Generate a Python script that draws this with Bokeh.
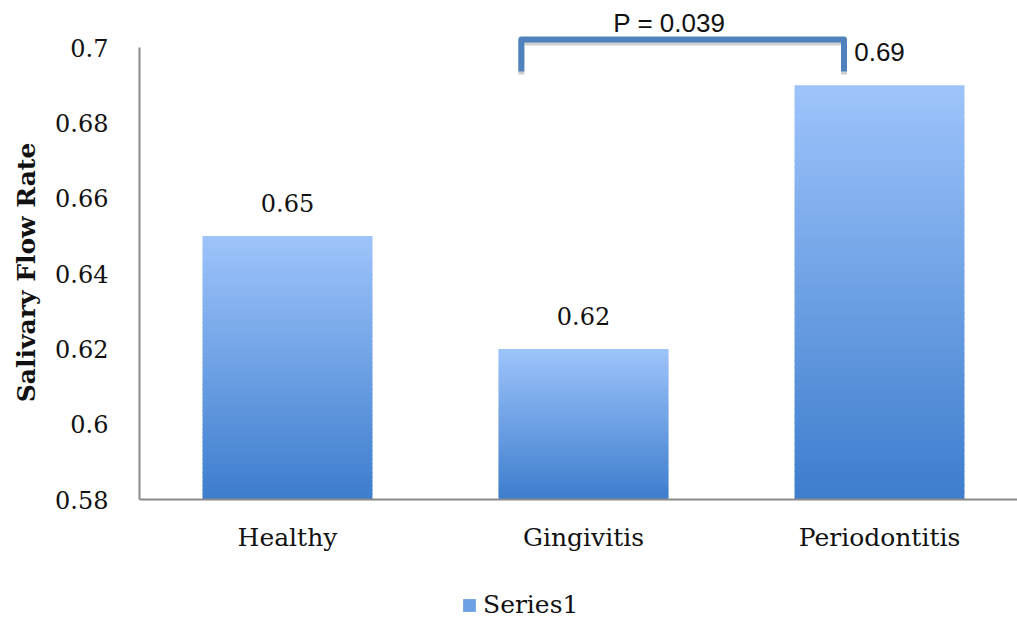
import numpy as np
from bokeh.plotting import figure
from bokeh.models import (Range1d, FixedTicker, Legend, LegendItem,
                          ColumnDataSource)
from bokeh.core.properties import value
from bokeh.embed import file_html
from bokeh.resources import INLINE

# ---------------- data ----------------
categories = ["Healthy", "Gingivitis", "Periodontitis"]
flow_rate = [0.65, 0.62, 0.69]
value_labels = ["0.65", "0.62", "0.69"]
y_ticks = [0.58, 0.6, 0.62, 0.64, 0.66, 0.68, 0.7]
y_tick_labels = ["0.58", "0.6", "0.62", "0.64", "0.66", "0.68", "0.7"]
series_name = "Series1"
y_title = "Salivary Flow Rate"
p_label = "P = 0.039"

# ---------------- style / layout ----------------
W, H = 1017, 619
PX_PER_X = 296.0          # pixels per category
PX_PER_Y = 3765.0         # pixels per unit of flow rate
AX_LEFT, AX_BOTTOM = 139, 499   # axis origin in figure pixels (from top-left)
Y_MIN, Y_MAX_AXIS = 0.58, 0.7
X_START = -AX_LEFT / PX_PER_X
X_END = (W - AX_LEFT) / PX_PER_X
Y_START = Y_MIN - (H - AX_BOTTOM) / PX_PER_Y
Y_END = Y_MIN + AX_BOTTOM / PX_PER_Y
BAR_W = 0.574
TOP_COLOR = np.array([0x9E, 0xC4, 0xFB])
BOT_COLOR = np.array([0x3D, 0x7D, 0xCD])
N_SLICES = 60
label_fonts = ["DejaVu Serif", "DejaVu Serif", "Liberation Sans"]
label_sizes = ["24px", "24px", "26px"]
BRACKET_X = (1.29, 2.38)
BRACKET_Y = (0.6937, 0.7022)
P_POS = (1.79, 0.7040)
YTITLE_POS = (-0.382, 0.6403)

p = figure(width=W, height=H, output_backend="svg", toolbar_location=None,
           x_range=Range1d(X_START, X_END), y_range=Range1d(Y_START, Y_END),
           min_border=0)
p.outline_line_color = None
p.xgrid.visible = False
p.ygrid.visible = False
p.background_fill_color = "white"
p.border_fill_color = "white"

x_pos = [i + 0.5 for i in range(len(categories))]

# gradient bars built from slices
overlap = 1.2 / PX_PER_Y
lefts, rights, bottoms, tops, colors = [], [], [], [], []
for xc, v in zip(x_pos, flow_rate):
    edges = np.linspace(Y_MIN, v, N_SLICES + 1)
    for k in range(N_SLICES):
        t = (k + 0.5) / N_SLICES
        c = BOT_COLOR + (TOP_COLOR - BOT_COLOR) * t
        lefts.append(xc - BAR_W / 2)
        rights.append(xc + BAR_W / 2)
        bottoms.append(edges[k])
        tops.append(edges[k + 1] + (overlap if k < N_SLICES - 1 else 0))
        colors.append("#%02x%02x%02x" % tuple(int(round(a)) for a in c))
bars_src = ColumnDataSource(dict(left=lefts, right=rights, bottom=bottoms,
                                 top=tops, color=colors))
bars = p.quad(left="left", right="right", bottom="bottom", top="top",
              fill_color="color", line_color=None, source=bars_src)

# value labels
lab_src = ColumnDataSource(dict(x=x_pos, y=flow_rate, text=value_labels,
                                font=label_fonts, size=label_sizes))
p.text(x="x", y="y", text="text", source=lab_src, text_align="center",
       text_baseline="alphabetic", y_offset=-33, text_font="font",
       text_font_size="size", text_color="#111111")

# significance bracket
bx0, bx1 = BRACKET_X
by0, by1 = BRACKET_Y
shadow = 3 / PX_PER_Y
p.line([bx0, bx0, bx1, bx1], [by0 - shadow, by1 - shadow, by1 - shadow, by0 - shadow],
       line_color="#cfcfcf", line_width=6, line_join="round")
p.line([bx0, bx0, bx1, bx1], [by0, by1, by1, by0],
       line_color="#4F81BD", line_width=6, line_join="round")
p.text(x=[P_POS[0]], y=[P_POS[1]], text=[p_label], text_align="center",
       text_baseline="alphabetic", y_offset=-10, text_font=value("Liberation Sans"),
       text_font_size="26px", text_color="#111111")

# y-axis title
p.text(x=[YTITLE_POS[0]], y=[YTITLE_POS[1]], text=[y_title], angle=np.pi / 2,
       text_align="center", text_baseline="middle",
       text_font=value("DejaVu Serif"), text_font_style="bold",
       text_font_size="25px", text_color="#111111")

# axes (fixed inside the frame)
for ax in (p.xaxis[0], p.yaxis[0]):
    ax.axis_line_color = "#8a8a8a"
    ax.axis_line_width = 2
    ax.major_tick_line_color = None
    ax.minor_tick_line_color = None
    ax.major_tick_out = 0
    ax.major_tick_in = 0
    ax.major_label_text_font = "DejaVu Serif"
    ax.major_label_text_color = "#111111"

p.xaxis.fixed_location = Y_MIN
p.xaxis.bounds = (0, X_END)
p.xaxis.ticker = FixedTicker(ticks=x_pos)
p.xaxis.major_label_overrides = {xp: c for xp, c in zip(x_pos, categories)}
p.xaxis.major_label_text_font_size = "25px"
p.xaxis.major_label_standoff = 23

p.yaxis.fixed_location = 0
p.yaxis.bounds = (Y_MIN, Y_MAX_AXIS)
p.yaxis.ticker = FixedTicker(ticks=y_ticks)
p.yaxis.major_label_overrides = {t: l for t, l in zip(y_ticks, y_tick_labels)}
p.yaxis.major_label_text_font_size = "24px"
p.yaxis.major_label_standoff = 31

legend = Legend(items=[LegendItem(label=series_name, renderers=[bars], index=30)],
                location=(461, 0), orientation="horizontal",
                padding=0, margin=0, glyph_width=16, glyph_height=16,
                label_standoff=6, spacing=0,
                label_text_font="DejaVu Serif", label_text_font_size="25px",
                label_text_color="#111111",
                border_line_color=None, background_fill_alpha=0)
p.add_layout(legend, "center")

open("out.html", "w").write(file_html(p, INLINE))
